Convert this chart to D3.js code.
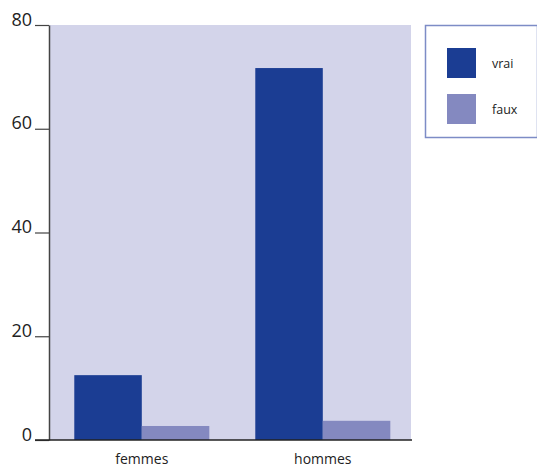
<!DOCTYPE html>
<html>
<head>
<meta charset="utf-8">
<script src="https://cdn.jsdelivr.net/npm/d3@7"></script>
<style>
  html, body { margin: 0; padding: 0; background: #fff; }
  svg { display: block; font-family: "Open Sans", "DejaVu Sans", sans-serif; }
</style>
</head>
<body>
<svg id="chart" width="537" height="468"></svg>
<script>
// Réponses par sexe
const categories = ["femmes", "hommes"];
const seriesNames = ["vrai", "faux"];
const vrai = [12.5, 71.7];
const faux = [2.7, 3.7];
const yTicks = [0, 20, 40, 60, 80];

const colors = { vrai: "#1b3d93", faux: "#8489c0" };

const svg = d3.select("#chart");
const margin = { left: 49, right: 126, top: 25, bottom: 28 };
const width = 537, height = 468;
const x0 = margin.left, x1 = width - margin.right;
const yBottom = height - margin.bottom, yTop = margin.top;

const x = d3.scaleBand().domain(categories).range([x0, x1])
  .paddingInner(0.254).paddingOuter(0.127).align(0.55);
const xs = d3.scaleBand().domain(seriesNames).range([0, x.bandwidth()]).padding(0);
const y = d3.scaleLinear().domain([0, 80]).range([yBottom, yTop]);

// plot background
svg.append("rect")
  .attr("x", x0).attr("y", yTop)
  .attr("width", x1 - x0).attr("height", yBottom - yTop)
  .attr("fill", "#d3d4ea");

const rows = categories.map((c, i) => ({ cat: c, vrai: vrai[i], faux: faux[i] }));

const groups = svg.append("g").selectAll("g").data(rows).join("g")
  .attr("transform", d => `translate(${x(d.cat)},0)`);
groups.selectAll("rect")
  .data(d => seriesNames.map(k => ({ key: k, value: d[k] })))
  .join("rect")
  .attr("x", d => xs(d.key))
  .attr("width", xs.bandwidth())
  .attr("y", d => y(d.value))
  .attr("height", d => y(0) - y(d.value))
  .attr("fill", d => colors[d.key]);

// y axis
const yAxis = svg.append("g")
  .attr("transform", `translate(${x0},0)`)
  .call(d3.axisLeft(y).tickValues(yTicks).tickSize(14).tickPadding(3).tickSizeOuter(0));
yAxis.select(".domain").attr("stroke", "#444").attr("stroke-width", 1.5);
yAxis.selectAll(".tick line").attr("stroke", "#444").attr("stroke-width", 1.2);
yAxis.selectAll(".tick text")
  .attr("dy", "0").attr("font-size", 18).attr("fill", "#222")
  .attr("font-family", "\"Open Sans\", sans-serif");

// x axis baseline and labels
svg.append("line")
  .attr("x1", x0 - 14).attr("x2", x1 + 1)
  .attr("y1", y(0)).attr("y2", y(0))
  .attr("stroke", "#222").attr("stroke-width", 1.3);
svg.append("g").selectAll("text").data(categories).join("text")
  .attr("x", d => x(d) + x.bandwidth() / 2)
  .attr("y", 464)
  .attr("text-anchor", "middle")
  .attr("font-size", 14)
  .attr("fill", "#222")
  .text(d => d);

// legend
const legend = svg.append("g");
legend.append("rect")
  .attr("x", 425.5).attr("y", 25.5).attr("width", 112).attr("height", 112)
  .attr("fill", "#fff").attr("stroke", "#7d8cc6").attr("stroke-width", 1.5);
const items = legend.selectAll("g.item").data(seriesNames).join("g")
  .attr("class", "item")
  .attr("transform", (d, i) => `translate(447,${48 + i * 46})`);
items.append("rect").attr("width", 29).attr("height", 30).attr("fill", d => colors[d]);
items.append("text").attr("x", 45).attr("y", 20).attr("font-size", 12.5)
  .attr("fill", "#222").text(d => d);
</script>
</body>
</html>
